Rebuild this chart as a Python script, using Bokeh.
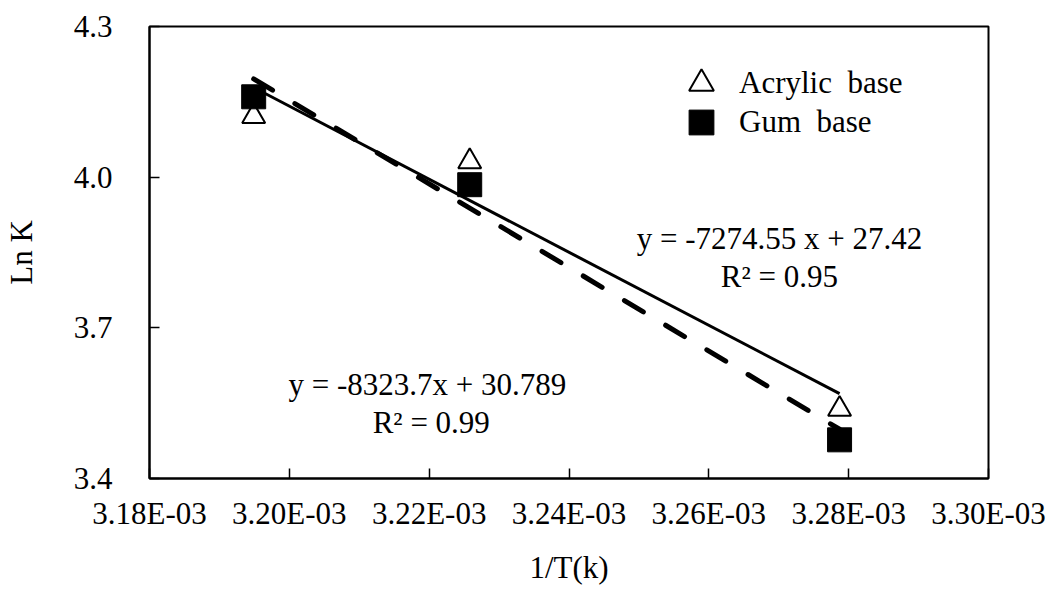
from bokeh.plotting import figure
from bokeh.models import (Range1d, FixedTicker, CustomJSTickFormatter, Legend,
                          LegendItem, Label, ColumnDataSource)
from bokeh.embed import file_html
from bokeh.resources import INLINE

# Arrhenius data: reciprocal absolute temperature vs. ln of rate constant
inv_temp = [3.1949e-3, 3.2258e-3, 3.2787e-3]
ln_k_acrylic = [4.121, 4.031, 3.538]
ln_k_gum = [4.160, 3.985, 3.477]

# Linear fits (slope, intercept) with their R² values
fit_acrylic = (-7274.55, 27.42)
r2_acrylic = 0.95
fit_gum = (-8323.7, 30.789)
r2_gum = 0.99

x_ticks = [0.00318, 0.00320, 0.00322, 0.00324, 0.00326, 0.00328, 0.00330]
y_ticks = [3.4, 3.7, 4.0, 4.3]

FONT = "Liberation Serif"
FS = "31px"

p = figure(width=1049, height=594,
           x_range=Range1d(0.00318, 0.00330), y_range=Range1d(3.4, 4.3),
           output_backend="svg", toolbar_location=None,
           min_border_left=145, min_border_right=61,
           min_border_top=26, min_border_bottom=116)

p.xgrid.visible = False
p.ygrid.visible = False
p.outline_line_color = "black"
p.outline_line_width = 2
p.background_fill_color = "white"
p.border_fill_color = "white"

for ax in (p.xaxis[0], p.yaxis[0]):
    ax.axis_line_width = 2
    ax.axis_line_color = "black"
    ax.major_tick_in = 10
    ax.major_tick_out = 0
    ax.major_tick_line_width = 1.5
    ax.minor_tick_line_color = None
    ax.major_label_text_font = FONT
    ax.major_label_text_font_size = FS
    ax.major_label_text_color = "black"
    ax.axis_label_text_font = FONT
    ax.axis_label_text_font_size = FS
    ax.axis_label_text_font_style = "normal"
    ax.axis_label_text_color = "black"

p.xaxis.ticker = FixedTicker(ticks=x_ticks)
p.yaxis.ticker = FixedTicker(ticks=y_ticks)
p.xaxis.formatter = CustomJSTickFormatter(
    code=r"return tick.toExponential(2).toUpperCase().replace(/E([+-])(\d)$/, 'E$10$2');")
p.yaxis.formatter = CustomJSTickFormatter(code="return tick.toFixed(1);")
p.xaxis.axis_label = "1/T(k)"
p.yaxis.axis_label = "Ln K"
p.xaxis.major_label_standoff = 17
p.xaxis.axis_label_standoff = 16
p.yaxis.major_label_standoff = 37
p.yaxis.axis_label_standoff = 32

src = ColumnDataSource(dict(x=inv_temp, acrylic=ln_k_acrylic, gum=ln_k_gum))

r_acr = p.scatter("x", "acrylic", source=src, marker="triangle", size=23,
                  fill_color="white", line_color="black", line_width=2)
r_gum = p.scatter("x", "gum", source=src, marker="square", size=24,
                  fill_color="black", line_color="black", line_width=1)

# trend lines over the measured range
x_line = [min(inv_temp), max(inv_temp)]
line_src = ColumnDataSource(dict(
    x=x_line,
    acrylic=[fit_acrylic[0] * v + fit_acrylic[1] for v in x_line],
    gum=[fit_gum[0] * v + fit_gum[1] for v in x_line],
))
p.line("x", "acrylic", source=line_src, line_color="black", line_width=3)
p.line("x", "gum", source=line_src, line_color="black", line_width=5,
       line_dash="22 26", line_cap="round")

def add_legend(renderer, text, loc):
    lg = Legend(items=[LegendItem(label=text, renderers=[renderer])],
                location=loc, glyph_width=62, glyph_height=62,
                label_standoff=7, padding=0, margin=0, spacing=0,
                border_line_color=None, background_fill_alpha=0,
                label_text_font=FONT, label_text_font_size=FS,
                label_text_color="black")
    p.add_layout(lg)

add_legend(r_acr, "Acrylic  base", (521, 364))
add_legend(r_gum, "Gum  base", (521, 325))

def add_text(x, y, text):
    p.add_layout(Label(x=x, y=y, text=text, text_font=FONT,
                       text_font_size=FS, text_align="center",
                       text_baseline="middle", text_color="black"))

add_text(0.0032701, 3.878, "y = %.2f x + %.2f" % fit_acrylic)
add_text(0.0032701, 3.802, "R² = %.2f" % r2_acrylic)
add_text(0.0032203, 3.587, "y = %.1fx  + %.3f" % fit_gum)
add_text(0.0032203, 3.511, "R² = %.2f" % r2_gum)

open("out.html", "w").write(file_html(p, INLINE))
